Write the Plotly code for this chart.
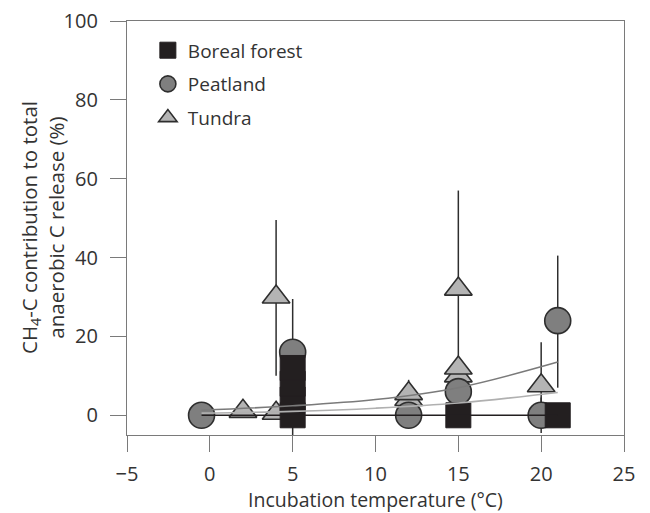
import plotly.graph_objects as go

# Boreal forest (black squares)
boreal_x = [5, 5, 5, 5, 15, 21]
boreal_y = [0, 4, 8, 12, 0, 0]
boreal_err = [5, 0, 0, 0, 2, 0]

# Peatland (grey circles)
peat_x = [-0.5, 5, 12, 15, 20, 21]
peat_y = [0, 16, 0, 6, 0, 24]
peat_err_plus = [0, 13.5, 0, 0, 4.5, 16.5]
peat_err_minus = [0, 13.5, 0, 0, 4.5, 17]

# Tundra (light grey triangles)
tundra_x = [2, 4, 4, 12, 12, 15, 15, 15, 20]
tundra_y = [1, 0.5, 30, 4, 5.5, 10, 12, 32, 7.5]
tundra_err_plus = [0, 0, 19.5, 0, 3.5, 0, 0, 25, 11]
tundra_err_minus = [0, 0, 20, 0, 3.5, 0, 0, 25, 11]

# Fitted curves
fit_x = [-0.5, 5, 10, 15, 21]
fit_boreal = [0, 0, 0, 0, 0]
fit_peat = [1.3, 2.4, 4.0, 7.0, 13.5]
fit_tundra = [0.55, 1.0, 1.8, 3.1, 5.8]

x_ticks = [-5, 0, 5, 10, 15, 20, 25]
y_ticks = [0, 20, 40, 60, 80, 100]

FONT = "Open Sans"
TXT = "#333333"
EDGE = "#2e2e2e"

fig = go.Figure()

fig.add_trace(go.Scatter(
    x=tundra_x, y=tundra_y, mode="markers", name="Tundra",
    legendgroup="c", legendrank=3,
    marker=dict(symbol="triangle-up", size=24, color="#b4b4b4",
                line=dict(color=EDGE, width=1.6)),
    error_y=dict(type="data", array=tundra_err_plus, arrayminus=tundra_err_minus,
                 color=EDGE, thickness=1.5, width=0),
))
fig.add_trace(go.Scatter(
    x=peat_x, y=peat_y, mode="markers", name="Peatland",
    legendgroup="b", legendrank=2,
    marker=dict(symbol="circle", size=26, color="#7f7f7f",
                line=dict(color=EDGE, width=1.6)),
    error_y=dict(type="data", array=peat_err_plus, arrayminus=peat_err_minus,
                 color=EDGE, thickness=1.5, width=0),
))
fig.add_trace(go.Scatter(
    x=boreal_x, y=boreal_y, mode="markers", name="Boreal forest",
    legendgroup="a", legendrank=1,
    marker=dict(symbol="square", size=25, color="#231f20",
                line=dict(color="#231f20", width=1)),
    error_y=dict(type="data", array=boreal_err, color=EDGE, thickness=1.5, width=0),
))

for ys, col in [(fit_tundra, "#b0b0b0"), (fit_peat, "#7a7a7a"), (fit_boreal, "#231f20")]:
    fig.add_trace(go.Scatter(
        x=fit_x, y=ys, mode="lines", showlegend=False, hoverinfo="skip",
        line=dict(color=col, width=1.6, shape="spline"),
    ))

fig.update_layout(
    width=650, height=513,
    margin=dict(l=127, r=26, t=21, b=78),
    plot_bgcolor="white", paper_bgcolor="white",
    font=dict(family=FONT, size=19, color=TXT),
    legend=dict(x=0.042, y=0.975, xanchor="left", yanchor="top",
                bgcolor="rgba(0,0,0,0)", font=dict(size=19, color=TXT),
                tracegroupgap=6, traceorder="grouped", itemsizing="trace"),
    annotations=[dict(
        text="CH<sub>4</sub>-C contribution to total<br>anaerobic C release (%)",
        xref="paper", yref="paper", x=-0.171, y=0.5,
        xanchor="center", yanchor="middle", textangle=-90, showarrow=False,
        font=dict(family=FONT, size=20.5, color=TXT),
    )],
)
axis_common = dict(
    showline=True, linecolor="#7a7a7a", linewidth=1.2, mirror=True,
    ticks="outside", ticklen=16, tickcolor="#7a7a7a", tickwidth=1.2,
    showgrid=False, zeroline=False, automargin=False,
    tickfont=dict(family=FONT, size=20, color=TXT),
)
fig.update_xaxes(
    range=[-5, 25], tickvals=x_ticks, ticktext=[str(v).replace("-", "\u2212") for v in x_ticks],
    title=dict(text="Incubation temperature (\u00b0C)", font=dict(family=FONT, size=19.5, color=TXT), standoff=4),
    ticklabelstandoff=5,
    **axis_common,
)
fig.update_yaxes(
    range=[-5, 100], tickvals=y_ticks,
    ticklabelstandoff=8,
    **axis_common,
)

fig.write_html("out.html")
